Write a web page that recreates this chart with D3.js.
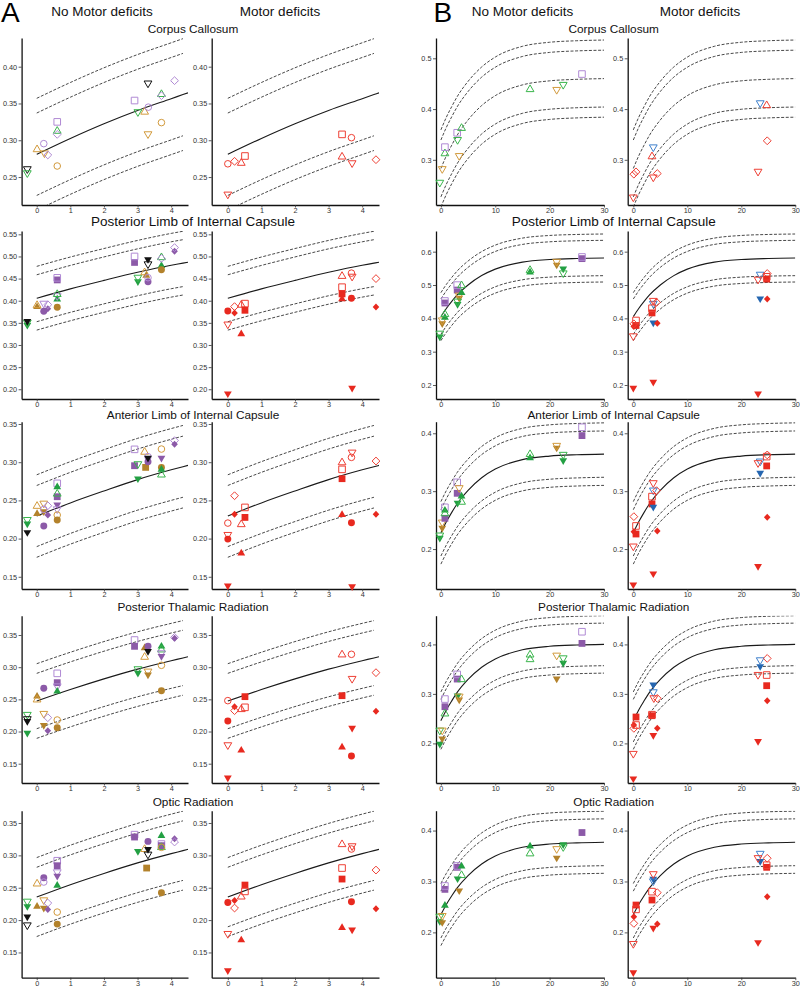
<!DOCTYPE html>
<html><head><meta charset="utf-8">
<script src="https://cdn.jsdelivr.net/npm/d3@7"></script>
<style>body{margin:0;background:#fff}svg{display:block}</style>
</head><body>
<script>
// ---------------- DATA ----------------
const tracts = ["Corpus Callosum","Posterior Limb of Internal Capsule","Anterior Limb of Internal Capsule","Posterior Thalamic Radiation","Optic Radiation"];
const groups = ["No Motor deficits","Motor deficits"];
const panelLabels = ["A","B"];
const xTicksA = [0,1,2,3,4];
const xTicksB = [0,10,20,30];
const yTicksA = [[0.25,0.30,0.35,0.40],[0.20,0.25,0.30,0.35,0.40,0.45,0.50,0.55],[0.15,0.20,0.25,0.30,0.35],[0.15,0.20,0.25,0.30,0.35],[0.15,0.20,0.25,0.30,0.35]];
const yTicksB = [[0.3,0.4,0.5],[0.2,0.3,0.4,0.5,0.6],[0.2,0.3,0.4],[0.2,0.3,0.4],[0.2,0.3,0.4]];
const yDomA = [[0.212,0.439],[0.178,0.5575],[0.134,0.353],[0.12,0.38],[0.111,0.369]];
const yDomB = [[0.211,0.54],[0.158,0.662],[0.131,0.42],[0.12,0.458],[0.111,0.439]];

// normative curves (mean)
const curveXA = [0,1,2,3,4,4.35,4.5];
const meanA = [
 [0.281,0.3025,0.3225,0.3405,0.3565,0.3621,0.3645],
 [0.4056,0.4267,0.4459,0.4642,0.4801,0.4849,0.487],
 [0.2295,0.2467,0.2623,0.2772,0.2900,0.2941,0.2958],
 [0.2474,0.2652,0.2818,0.2970,0.3101,0.3144,0.3163],
 [0.2356,0.2547,0.2721,0.2884,0.3027,0.3073,0.3093]];
const curveXB = [0,1,2,3,5,7.5,10,15,20,25,30];
const meanB = [
 [0.283,0.3078,0.329,0.3485,0.3786,0.4069,0.4264,0.4476,0.4556,0.4586,0.46],
 [0.405,0.4296,0.4508,0.4701,0.500,0.5282,0.5476,0.5687,0.5766,0.5796,0.581],
 [0.228,0.247,0.2634,0.2783,0.3014,0.3232,0.3382,0.3545,0.3606,0.3629,0.364],
 [0.246,0.2676,0.286,0.303,0.3292,0.3538,0.3707,0.3892,0.3962,0.3988,0.400],
 [0.235,0.2549,0.2719,0.2875,0.3117,0.3344,0.350,0.3671,0.3735,0.3759,0.377]];
// distance of the dashed reference curves from the mean curve (inner, outer)
const bandOffsets = [[0.056,0.076],[0.053,0.072],[0.040,0.054],[0.043,0.058],[0.046,0.061]];

// points: [x, y, colour+shape+fill]  colour g/p/o/k/r/b ; shape c/s/u/d/m ; f filled, o open
const ptsA_noMotor = [
 [[-0.28,0.2605,"kdo"],[-0.28,0.255,"gdo"],[0.01,0.288,"ouo"],[0.21,0.2954,"pco"],[0.23,0.282,"odo"],[0.33,0.280,"pmo"],[0.61,0.265,"oco"],[0.61,0.325,"pso"],[0.61,0.313,"guo"],[0.61,0.308,"pmo"],[2.91,0.354,"pso"],[3.01,0.338,"gdo"],[3.21,0.339,"ouo"],[3.32,0.345,"pco"],[3.31,0.377,"kdo"],[3.31,0.308,"odo"],[3.71,0.363,"guo"],[3.71,0.3606,"pmo"],[3.71,0.324,"oco"],[4.10,0.381,"pmo"]],
 [[-0.28,0.344,"gdf"],[-0.28,0.350,"gdo"],[-0.28,0.353,"kdf"],[0.01,0.387,"ouf"],[0.01,0.3905,"ouo"],[0.21,0.376,"pcf"],[0.21,0.393,"pdo"],[0.33,0.382,"pmf"],[0.33,0.391,"pmo"],[0.61,0.447,"psf"],[0.61,0.4517,"pso"],[0.61,0.404,"guf"],[0.61,0.41,"pdo"],[0.61,0.4154,"guo"],[0.61,0.3852,"ocf"],[2.91,0.4865,"psf"],[2.91,0.5,"pso"],[3.01,0.4427,"gdf"],[3.01,0.4517,"gdo"],[3.26,0.458,"ouf"],[3.21,0.4646,"ouo"],[3.31,0.482,"kdo"],[3.31,0.4925,"kdf"],[3.31,0.4427,"pcf"],[3.31,0.452,"pco"],[3.71,0.4797,"guf"],[3.71,0.4986,"guo"],[3.71,0.4956,"pmo"],[3.71,0.4699,"ocf"],[4.10,0.512,"pmf"],[4.10,0.52,"pmo"]],
 [[-0.28,0.2242,"gdo"],[-0.28,0.219,"gdf"],[-0.28,0.2076,"kdf"],[0.01,0.243,"ouo"],[0.01,0.233,"ouf"],[0.21,0.2456,"odo"],[0.21,0.235,"odf"],[0.21,0.2382,"pco"],[0.21,0.2164,"pcf"],[0.33,0.243,"pmo"],[0.33,0.2308,"pmf"],[0.61,0.2723,"pso"],[0.61,0.2548,"psf"],[0.61,0.2679,"guf"],[0.61,0.259,"guo"],[0.61,0.2439,"pdf"],[0.61,0.2382,"pdo"],[0.61,0.2308,"oco"],[0.61,0.2242,"ocf"],[2.91,0.3168,"pso"],[2.91,0.2954,"psf"],[3.01,0.2972,"gdo"],[3.01,0.278,"gdf"],[3.21,0.3138,"ouo"],[3.24,0.2932,"osf"],[3.31,0.3072,"pco"],[3.31,0.3007,"pcf"],[3.31,0.305,"kdf"],[3.71,0.3172,"oco"],[3.71,0.2932,"ocf"],[3.71,0.305,"pdf"],[3.71,0.284,"guo"],[3.71,0.291,"guf"],[4.10,0.3282,"pmo"],[4.10,0.3234,"pmf"]],
 [[-0.28,0.2257,"gdo"],[-0.28,0.219,"kdo"],[-0.28,0.2153,"kdf"],[-0.28,0.1972,"gdf"],[0.01,0.2552,"ouf"],[0.01,0.25,"ouo"],[0.21,0.2671,"pcf"],[0.21,0.2272,"odo"],[0.21,0.2091,"odf"],[0.33,0.2215,"pmo"],[0.33,0.2013,"pmf"],[0.61,0.2904,"pso"],[0.61,0.2759,"psf"],[0.61,0.27,"pdo"],[0.61,0.263,"guf"],[0.61,0.2179,"oco"],[0.61,0.206,"ocf"],[2.91,0.3422,"pso"],[2.91,0.3324,"psf"],[3.01,0.2966,"gdo"],[3.01,0.2904,"gdf"],[3.21,0.3303,"ouf"],[3.21,0.3163,"ouo"],[3.31,0.3324,"pcf"],[3.31,0.3241,"kdf"],[3.31,0.293,"odo"],[3.31,0.2878,"odf"],[3.71,0.3329,"guf"],[3.71,0.3277,"guo"],[3.71,0.3215,"pdo"],[3.71,0.3163,"pdf"],[3.71,0.3029,"oco"],[3.71,0.2635,"ocf"],[4.10,0.3464,"pmo"],[4.10,0.3448,"pmf"]],
 [[-0.28,0.2283,"gdo"],[-0.28,0.2206,"gdf"],[-0.28,0.2046,"kdf"],[-0.28,0.1917,"kdo"],[0.01,0.2567,"ouo"],[0.01,0.2216,"ouf"],[0.21,0.2655,"pcf"],[0.21,0.2588,"pco"],[0.21,0.2304,"odo"],[0.21,0.218,"odf"],[0.33,0.2263,"pmo"],[0.33,0.2165,"pmf"],[0.61,0.2917,"pso"],[0.61,0.284,"psf"],[0.61,0.2737,"pdo"],[0.61,0.2675,"pdf"],[0.61,0.2541,"guf"],[0.61,0.2124,"oco"],[0.61,0.1938,"ocf"],[2.91,0.332,"pso"],[2.91,0.3283,"psf"],[3.01,0.3057,"gdf"],[3.31,0.3216,"pcf"],[3.21,0.31,"ouo"],[3.27,0.2804,"osf"],[3.31,0.3088,"kdf"],[3.31,0.301,"kdo"],[3.71,0.331,"guf"],[3.71,0.3175,"pso"],[3.71,0.315,"psf"],[3.71,0.313,"guo"],[3.71,0.3124,"oco"],[3.71,0.2423,"ocf"],[4.10,0.3258,"pmf"],[4.10,0.3206,"pmo"]]];
const ptsA_motor = [
 [[0,0.268,"rco"],[0.2,0.2714,"rmo"],[0.4,0.2695,"ruo"],[0.51,0.2786,"rso"],[0,0.226,"rdo"],[3.4,0.308,"rso"],[3.68,0.3035,"rco"],[3.4,0.278,"ruo"],[3.7,0.2686,"rdo"],[4.41,0.2736,"rmo"]],
 [[0,0.3769,"rcf"],[0,0.346,"rdo"],[0,0.1893,"rdf"],[0.2,0.3867,"rmo"],[0.2,0.3723,"rmf"],[0.4,0.3912,"ruo"],[0.4,0.3255,"ruf"],[0.51,0.3935,"rso"],[0.51,0.3784,"rsf"],[3.4,0.4563,"ruo"],[3.4,0.4306,"rso"],[3.4,0.4154,"rsf"],[3.4,0.4048,"ruf"],[3.68,0.4623,"rco"],[3.7,0.454,"rdo"],[3.68,0.4056,"rcf"],[3.7,0.202,"rdf"],[4.41,0.45,"rmo"],[4.41,0.386,"rmf"]],
 [[0,0.2203,"rco"],[0,0.2046,"rdo"],[0,0.1993,"rcf"],[0,0.1378,"rdf"],[0.2,0.2561,"rmo"],[0.2,0.2317,"rmf"],[0.4,0.219,"ruo"],[0.4,0.1814,"ruf"],[0.51,0.2408,"rso"],[0.51,0.2277,"rsf"],[3.4,0.3,"ruo"],[3.4,0.2906,"rso"],[3.4,0.2784,"rsf"],[3.4,0.2317,"ruf"],[3.7,0.3124,"rdo"],[3.68,0.3063,"rco"],[3.68,0.2207,"rcf"],[3.7,0.1369,"rdf"],[4.41,0.3015,"rmo"],[4.41,0.2317,"rmf"]],
 [[0,0.248,"rco"],[0,0.2164,"rcf"],[0,0.1785,"rdo"],[0,0.1277,"rdf"],[0.2,0.2386,"rmf"],[0.2,0.2324,"rmo"],[0.4,0.235,"ruo"],[0.4,0.1713,"ruf"],[0.51,0.2542,"rsf"],[0.51,0.2376,"rso"],[3.4,0.32,"ruo"],[3.4,0.2557,"rsf"],[3.4,0.176,"ruf"],[3.68,0.32,"rco"],[3.7,0.2816,"rdo"],[3.7,0.205,"rdf"],[3.68,0.162,"rcf"],[4.41,0.2915,"rmo"],[4.41,0.2314,"rmf"]],
 [[0,0.2273,"rcf"],[0,0.1784,"rdo"],[0,0.1216,"rdf"],[0.2,0.2304,"rmf"],[0.2,0.2186,"rmo"],[0.4,0.2366,"ruo"],[0.4,0.1696,"ruf"],[0.51,0.2541,"rsf"],[0.51,0.2443,"rso"],[3.4,0.3175,"ruo"],[3.4,0.2804,"rso"],[3.4,0.2634,"rsf"],[3.4,0.1887,"ruf"],[3.7,0.3139,"rdo"],[3.68,0.3098,"rco"],[3.68,0.2283,"rcf"],[3.7,0.1845,"rdf"],[4.41,0.2773,"rmo"],[4.41,0.2175,"rmf"]]];
const ptsB_noMotor = [
 [[-0.2,0.2546,"gdo"],[0.25,0.2815,"odo"],[0.74,0.3131,"guo"],[0.74,0.325,"pso"],[3.37,0.3072,"odo"],[3.07,0.3388,"gdo"],[3.0,0.3533,"pso"],[3.8,0.3631,"guo"],[16.4,0.4395,"guo"],[21.3,0.4375,"odo"],[22.5,0.4474,"gdo"],[25.95,0.469,"pso"]],
 [[-0.2,0.3438,"gdf"],[-0.2,0.3537,"gdo"],[0.25,0.3835,"odf"],[0.25,0.3935,"odo"],[0.74,0.4034,"guf"],[0.74,0.4133,"guo"],[0.74,0.446,"psf"],[0.74,0.452,"pso"],[3.0,0.4848,"psf"],[3.0,0.4997,"pso"],[3.37,0.46,"odf"],[3.37,0.468,"odo"],[3.07,0.4411,"gdf"],[3.07,0.45,"gdo"],[3.8,0.4779,"guf"],[3.8,0.4997,"guo"],[16.4,0.5394,"guf"],[16.4,0.5454,"guo"],[21.3,0.5593,"odf"],[21.3,0.5692,"odo"],[22.5,0.5474,"gdf"],[22.5,0.5345,"gdo"],[25.95,0.5791,"psf"],[25.95,0.5841,"pso"]],
 [[-0.2,0.2186,"gdf"],[-0.2,0.2232,"gdo"],[0.25,0.2358,"odf"],[0.25,0.2456,"odo"],[0.74,0.2531,"psf"],[0.74,0.2721,"pso"],[0.74,0.2675,"guf"],[0.74,0.262,"guo"],[3.0,0.2963,"psf"],[3.0,0.3153,"pso"],[3.37,0.305,"odo"],[3.07,0.279,"gdf"],[3.8,0.2917,"guf"],[3.8,0.2819,"guo"],[16.4,0.358,"guf"],[16.4,0.3643,"guo"],[21.3,0.3741,"odf"],[21.3,0.3781,"odo"],[22.5,0.3522,"gdf"],[22.5,0.3626,"gdo"],[25.95,0.396,"psf"],[25.95,0.4104,"pso"]],
 [[-0.2,0.1981,"gdf"],[-0.2,0.2257,"gdo"],[0.25,0.2089,"odf"],[0.25,0.2257,"odo"],[0.74,0.2741,"psf"],[0.74,0.2896,"pso"],[0.74,0.2607,"guo"],[3.0,0.33,"psf"],[3.0,0.3394,"pso"],[3.8,0.33,"guo"],[3.07,0.2957,"gdf"],[3.37,0.2876,"odf"],[3.37,0.2943,"odo"],[16.4,0.3798,"guo"],[16.4,0.3704,"guo"],[21.3,0.33,"odf"],[21.3,0.3771,"odo"],[22.5,0.3616,"gdf"],[22.5,0.3717,"gdo"],[25.95,0.402,"psf"],[25.95,0.4256,"pso"]],
 [[-0.2,0.2209,"gdf"],[-0.2,0.2307,"gdo"],[0.25,0.2189,"odf"],[0.25,0.232,"odo"],[0.74,0.2537,"guf"],[0.74,0.2845,"psf"],[0.74,0.2911,"pso"],[3.0,0.3278,"psf"],[3.0,0.3305,"pso"],[3.8,0.3305,"guf"],[3.8,0.3128,"guo"],[3.07,0.3049,"gdf"],[3.37,0.2813,"odf"],[16.4,0.3698,"guf"],[16.4,0.3554,"guo"],[21.3,0.3456,"odf"],[21.3,0.3633,"odo"],[22.5,0.3718,"gdf"],[22.5,0.3672,"gdo"],[25.95,0.3961,"psf"]]];
const ptsB_motor = [
 [[0.1,0.2717,"rmo"],[0.5,0.2763,"rmo"],[0,0.2256,"rdo"],[3.7,0.3243,"bdo"],[3.46,0.3072,"ruo"],[3.7,0.265,"rdo"],[4.44,0.273,"rmo"],[23.5,0.4112,"bdo"],[24.7,0.4079,"ruo"],[24.8,0.3375,"rmo"],[23.1,0.2763,"rdo"]],
 [[0.5,0.3786,"rsf"],[0.5,0.3935,"rso"],[0.1,0.3756,"rmf"],[0.1,0.3835,"rmo"],[0,0.3458,"rdo"],[0,0.19,"rdf"],[3.7,0.3855,"bdf"],[3.7,0.4431,"bdo"],[3.46,0.4163,"rsf"],[3.46,0.4302,"rso"],[4.3,0.4481,"rmo"],[4.44,0.3855,"rmf"],[3.7,0.452,"rdo"],[3.7,0.2078,"rdf"],[23.5,0.458,"bdf"],[23.5,0.5305,"bdo"],[23.1,0.5156,"rdo"],[24.8,0.5345,"rmo"],[24.7,0.5176,"rsf"],[24.7,0.5246,"rso"],[24.8,0.458,"rmf"],[23.1,0.173,"rdf"]],
 [[0.1,0.256,"rmo"],[0.5,0.226,"rsf"],[0.5,0.2399,"rso"],[0.1,0.23,"rmf"],[0,0.2042,"rdo"],[0,0.1379,"rdf"],[3.7,0.3136,"rdo"],[3.7,0.3009,"bdo"],[4.3,0.3009,"rmo"],[3.46,0.2779,"rsf"],[3.46,0.2906,"rso"],[3.7,0.2721,"bdf"],[4.44,0.2312,"rmf"],[3.7,0.1569,"rdf"],[23.5,0.3309,"bdf"],[23.5,0.351,"bdo"],[23.1,0.3482,"rdo"],[24.7,0.3436,"rsf"],[24.8,0.3626,"rmo"],[24.7,0.3597,"rso"],[24.8,0.2548,"rmf"],[23.1,0.1696,"rdf"]],
 [[0.1,0.2371,"rmf"],[0.1,0.2304,"rmo"],[0.5,0.2533,"rsf"],[0.5,0.2371,"rso"],[0,0.1786,"rdo"],[0,0.1281,"rdf"],[3.7,0.3179,"bdf"],[3.7,0.3031,"bdo"],[3.8,0.291,"rdo"],[4.44,0.291,"rmo"],[3.46,0.256,"rsf"],[3.46,0.258,"rso"],[4.44,0.2304,"rmf"],[3.7,0.2156,"rdf"],[23.5,0.3549,"bdf"],[23.5,0.3677,"bdo"],[23.1,0.3381,"rdo"],[24.7,0.3166,"rsf"],[24.7,0.3381,"rso"],[24.8,0.3717,"rmo"],[24.8,0.2863,"rmf"],[23.1,0.2035,"rdf"]],
 [[0.5,0.2537,"rsf"],[0.5,0.2452,"rso"],[0.1,0.2307,"rmf"],[0.1,0.2176,"rmo"],[0,0.177,"rdo"],[0,0.1206,"rdf"],[3.7,0.3042,"bdf"],[3.7,0.30,"bdo"],[3.7,0.3141,"rdo"],[3.46,0.2636,"rsf"],[3.46,0.28,"rso"],[4.44,0.278,"rmo"],[4.44,0.2163,"rmf"],[3.7,0.2078,"rdf"],[23.5,0.339,"bdf"],[23.5,0.3541,"bdo"],[23.1,0.3456,"rdo"],[24.7,0.3278,"rsf"],[24.7,0.332,"rso"],[24.8,0.3456,"rmo"],[24.8,0.2701,"rmf"],[23.1,0.1796,"rdf"]]];

// ---------------- DRAW ----------------
const W = 800, H = 988;
const FONT = "'Liberation Sans', Arial, Helvetica, sans-serif";
const fillCol = {g:"#23a043", p:"#8c5aa8", o:"#b3822b", k:"#111111", r:"#e8291f", b:"#2566b0"};
const openCol = {g:"#3ab54c", p:"#b08ad4", o:"#d29a3c", k:"#111111", r:"#ee3f34", b:"#3f80cc"};

const svg = d3.select("body").append("svg").attr("width", W).attr("height", H)
  .style("font-family", FONT);
svg.append("rect").attr("width", W).attr("height", H).attr("fill", "#fff");

const rowTop = [38, 231, 421.7, 615.7, 810.7];
const rowBot = [205, 399, 589, 783, 977.7];
const titleBase = [33.3, 226.3, 418.6, 611.3, 806.3];

const panels = [
  {label:"A", lx:1, cols:[{x0:21.6, x1:188, dom:[-0.45,4.5]},{x0:211.7, x1:379, dom:[-0.48,4.5]}],
   headX:[102,280], titleX:193, yDom:yDomA, yTicks:yTicksA, xTicks:xTicksA, fmt:d3.format(".2f"),
   cx:curveXA, mean:meanA, pts:[ptsA_noMotor, ptsA_motor], dashEnd:4.35, meanDashed:[]},
  {label:"B", lx:433.5, cols:[{x0:436, x1:604, dom:[-0.9,30]},{x0:627.7, x1:795.3, dom:[-1.04,30]}],
   headX:[522.5,700], titleX:613.7, yDom:yDomB, yTicks:yTicksB, xTicks:xTicksB, fmt:d3.format(".1f"),
   cx:curveXB, mean:meanB, pts:[ptsB_noMotor, ptsB_motor], dashEnd:30, meanDashed:[0]}
];

function markerPath(shape, filled) {
  switch (shape) {
    case "c": return d3.symbol(d3.symbolCircle, filled ? 38 : 34)();
    case "s": return filled ? "M-3.4,-3.4H3.4V3.4H-3.4Z" : "M-3.3,-3.3H3.3V3.3H-3.3Z";
    case "u": return "M0,-4.1L3.9,2.6L-3.9,2.6Z";
    case "d": return "M0,4.1L3.9,-2.6L-3.9,-2.6Z";
    case "m": return filled ? "M0,-3.5L3.3,0L0,3.5L-3.3,0Z" : "M0,-3.9L3.9,0L0,3.9L-3.9,0Z";
  }
}

let clipId = 0;
panels.forEach(P => {
  svg.append("text").attr("x", P.lx).attr("y", 21.7).attr("font-size", 28).attr("fill", "#000").text(P.label);
  groups.forEach((g, ci) => {
    svg.append("text").attr("x", P.headX[ci]).attr("y", 15.7).attr("text-anchor", "middle")
      .attr("font-size", 13.5).attr("fill", "#111").text(g);
  });
  tracts.forEach((tr, ti) => {
    svg.append("text").attr("x", P.titleX).attr("y", titleBase[ti]).attr("text-anchor", "middle")
      .attr("font-size", ti === 1 ? 13.5 : 11.8).attr("fill", "#111").text(tr);
    const y = d3.scaleLinear().domain(P.yDom[ti]).range([rowBot[ti], rowTop[ti]]);
    P.cols.forEach((C, ci) => {
      const x = d3.scaleLinear().domain(C.dom).range([C.x0, C.x1]);
      const g = svg.append("g");
      const id = "clip" + (clipId++);
      svg.append("clipPath").attr("id", id).append("rect")
        .attr("x", C.x0).attr("y", rowTop[ti]).attr("width", C.x1 - C.x0).attr("height", rowBot[ti] - rowTop[ti]);
      const cg = g.append("g").attr("clip-path", `url(#${id})`);
      const meanPts = P.cx.map((xv, i) => [xv, P.mean[ti][i]]);
      const line = d3.line().x(d => x(d[0])).y(d => y(d[1])).curve(d3.curveMonotoneX);
      const dashPts = meanPts.filter(d => d[0] <= P.dashEnd + 1e-9);
      const offs = bandOffsets[ti];
      [offs[1], offs[0], -offs[0], -offs[1]].forEach(o => {
        cg.append("path").attr("d", line(dashPts.map(d => [d[0], d[1] + o])))
          .attr("fill", "none").attr("stroke", "#333").attr("stroke-width", 0.9)
          .attr("stroke-dasharray", "3,1.6");
      });
      const dashedMean = P.meanDashed.includes(ti);
      cg.append("path").attr("d", line(dashedMean ? dashPts : meanPts))
        .attr("fill", "none").attr("stroke", dashedMean ? "#333" : "#1a1a1a")
        .attr("stroke-width", dashedMean ? 0.9 : 1.1)
        .attr("stroke-dasharray", dashedMean ? "3,1.6" : null);

      // axes
      const ya = g.append("g").attr("transform", `translate(${C.x0},0)`)
        .call(d3.axisLeft(y).tickValues(P.yTicks[ti]).tickFormat(P.fmt).tickSize(3).tickSizeOuter(0).tickPadding(1.5));
      const xa = g.append("g").attr("transform", `translate(0,${rowBot[ti]})`)
        .call(d3.axisBottom(x).tickValues(P.xTicks).tickFormat(d3.format("d")).tickSize(2.5).tickSizeOuter(0).tickPadding(0.8));
      [ya, xa].forEach(a => {
        a.select(".domain").attr("stroke", "#111").attr("stroke-width", 1.3);
        a.selectAll(".tick line").attr("stroke", "#333").attr("stroke-width", 0.8);
        a.selectAll(".tick text").attr("font-size", 7.3).attr("fill", "#333").attr("font-family", FONT);
      });

      // points
      const pts = P.pts[ci][ti];
      g.append("g").selectAll("path").data(pts).join("path")
        .attr("transform", d => `translate(${x(d[0])},${y(d[1])})`)
        .attr("d", d => markerPath(d[2][1], d[2][2] === "f"))
        .attr("fill", d => d[2][2] === "f" ? fillCol[d[2][0]] : "none")
        .attr("stroke", d => d[2][2] === "f" ? "none" : openCol[d[2][0]])
        .attr("stroke-width", 1);
    });
  });
});
</script>
</body></html>
